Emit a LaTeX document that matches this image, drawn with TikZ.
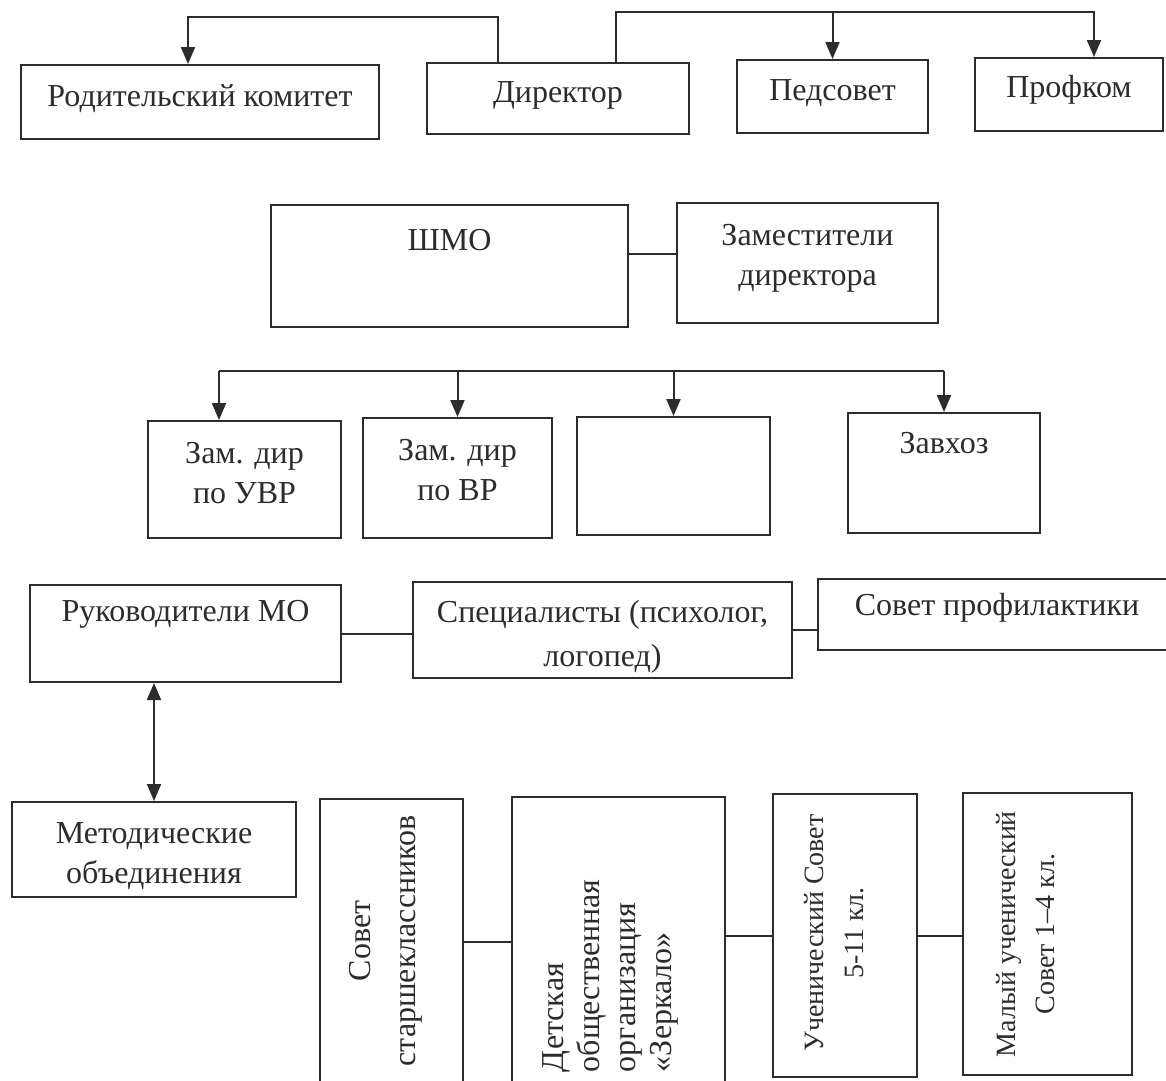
\documentclass[tikz,border=0pt]{standalone}
\usepackage{fontspec}
\setmainfont{Liberation Serif}
\usetikzlibrary{arrows.meta}
\definecolor{ink}{HTML}{2C2C2C}
\tikzset{
  box/.style 2 args={draw, inner sep=0pt, minimum width=#1pt, minimum height=#2pt},
  txt/.style={inner sep=0pt, align=center},
  small/.style={font=\fontsize{28}{34}\selectfont},
  arr/.style={-{Triangle[length=17pt,width=14pt]}},
  dblarr/.style={{Triangle[length=17pt,width=14pt]}-{Triangle[length=17pt,width=14pt]}},
}
\begin{document}
\begin{tikzpicture}[x=1pt,y=-1pt,line width=2pt,color=ink,font=\fontsize{32}{38}\selectfont]
\clip (0,0) rectangle (1166,1080);

% boxes
\node[box={358}{74}] (rod) at (200,102) {};
\node[box={262}{71}] (dir) at (558,98.5) {};
\node[box={191}{73}] (ped) at (832.5,96.5) {};
\node[box={188}{73}] (prof) at (1069,94.5) {};

\node[box={357}{122}] (shmo) at (449.5,266) {};
\node[box={261}{120}] (zam) at (807.5,263) {};

\node[box={193}{117}] (zd1) at (244.5,479.5) {};
\node[box={189}{120}] (zd2) at (457.5,478) {};
\node[box={193}{118}] (zd3) at (673.5,476) {};
\node[box={192}{120}] (zh) at (944,473) {};

\node[box={311}{97}] (rmo) at (185.5,633.5) {};
\node[box={379}{96}] (spec) at (602.5,630) {};
\node[box={358}{71}] (sov) at (997,614.5) {};

\node[box={284}{95}] (metod) at (154,849.5) {};
\node[box={143}{286}] (sst) at (391.5,942) {};
\node[box={213}{286}] (det) at (618.5,940) {};
\node[box={144}{283}] (uch) at (845,935.5) {};
\node[box={169}{282}] (mal) at (1047.5,934) {};

% texts
\node[txt,anchor=base] (tRod) at (200,106) {Родительский комитет};
\node[txt,anchor=base] (tDir) at (558,102) {Директор};
\node[txt,anchor=base] (tPed) at (832.5,100) {Педсовет};
\node[txt,anchor=base] (tProf) at (1069,97) {Профком};
\node[txt,anchor=base] (tShmo) at (449.5,250) {ШМО};
\node[txt,anchor=north] (tZam) at (807.5,223) {Заместители\\[2pt]директора};
\node[txt,anchor=north] (tZd1) at (244.5,441) {Зам. дир\\[2pt]по УВР};
\node[txt,anchor=north] (tZd2) at (457.5,438) {Зам. дир\\[2pt]по ВР};
\node[txt,anchor=base] (tZh) at (944,453) {Завхоз};
\node[txt,anchor=base] (tRmo) at (185.5,621) {Руководители МО};
\node[txt,anchor=north] (tSpec) at (602.5,599) {Специалисты (психолог,\\[6pt]логопед)};
\node[txt,anchor=base] (tSov) at (997,615) {Совет профилактики};
\node[txt,anchor=north] (tMetod) at (154,822) {Методические\\[2pt]объединения};
\node[txt,rotate=90,anchor=north] (tSst) at (348,941) {Совет\\[7pt]старшеклассников};
\node[txt,rotate=90,anchor=north west,align=left] (tDet) at (542,1073)
  {Детская\\[-2pt]общественная\\[-2pt]организация\\[-2pt]«Зеркало»};
\node[txt,small,rotate=90,anchor=north] (tUch) at (803,933) {Ученический Совет\\[6pt]5-11 кл.};
\node[txt,small,rotate=90,anchor=north] (tMal) at (995,934) {Малый ученический\\[5pt]Совет 1--4 кл.};

% connectors
\coordinate (d1) at ([xshift=-60pt]dir.north);
\coordinate (a1) at ([xshift=-12pt]rod.north);
\draw[arr] (d1) -- ++(0,-45) -| (a1);
\coordinate (d2) at ([xshift=58pt]dir.north);
\coordinate (a3) at ([xshift=25pt]prof.north);
\draw[arr] (d2) -- ++(0,-50) coordinate (top2) -| (a3);
\draw[arr] (top2 -| ped.north) -- (ped.north);

\coordinate (c1) at ([yshift=9pt]zam.west);
\draw (c1) -- (c1 -| shmo.east);

\coordinate (bL) at (219,371);
\draw (bL) -- (bL -| zh.north);
\draw[arr] (bL) -- (bL |- zd1.north);
\foreach \b in {zd2,zd3,zh}
  \draw[arr] (bL -| \b.north) -- (\b.north);

\draw (rmo.east) -- (rmo.east -| spec.west);
\draw (spec.east) -- (spec.east -| sov.west);
\draw[dblarr] (metod.north) -- (metod.north |- rmo.south);

\draw (sst.east) -- (sst.east -| det.west);
\draw (uch.west) -- (uch.west -| det.east);
\draw (uch.east) -- (uch.east -| mal.west);
\end{tikzpicture}
\end{document}
